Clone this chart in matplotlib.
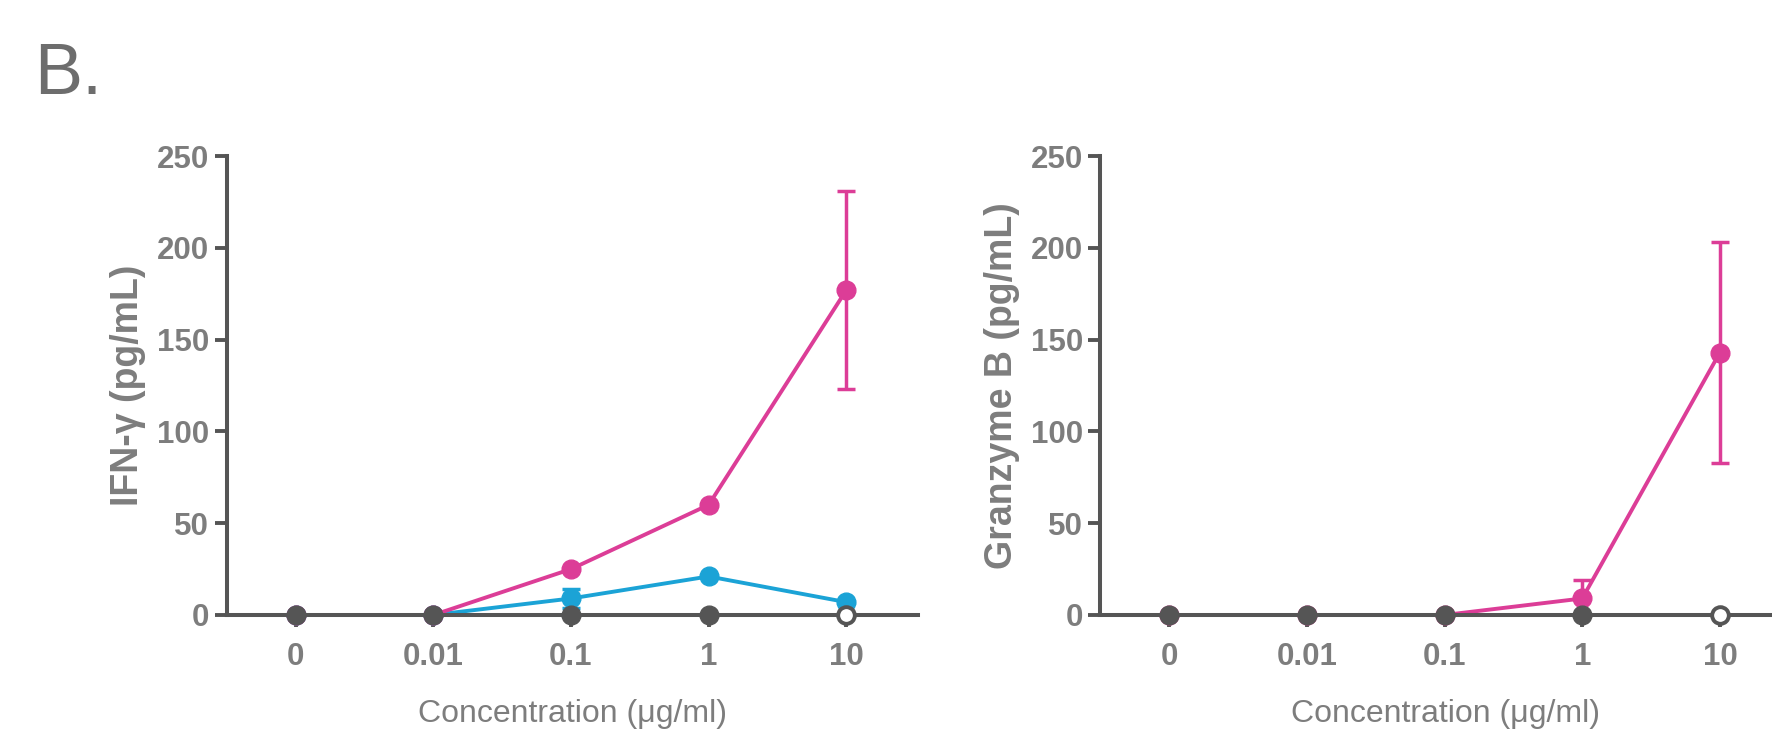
"""Two-panel dose-response plot: IFN-gamma and Granzyme B vs concentration."""

import matplotlib
matplotlib.use("Agg")
import matplotlib.pyplot as plt

# ---------------------------------------------------------------------------
# Data
# ---------------------------------------------------------------------------

conc_labels = ["0", "0.01", "0.1", "1", "10"]
xi = list(range(len(conc_labels)))

# IFN-gamma (pg/mL)
ifn_magenta = [0, 0, 25, 60, 177]
ifn_magenta_lo = [0, 0, 0, 0, 54]
ifn_magenta_hi = [0, 0, 0, 0, 54]
ifn_cyan = [0, 0, 9, 21, 7]
ifn_cyan_lo = [0, 0, 5, 0, 0]
ifn_cyan_hi = [0, 0, 5, 0, 0]

# Granzyme B (pg/mL)
gzb_magenta = [0, 0, 0, 9, 143]
gzb_magenta_lo = [0, 0, 0, 0, 60]
gzb_magenta_hi = [0, 0, 0, 10, 60]

# controls: filled at 0..1, open circle at 10
ctrl_x = [0, 1, 2, 3]
ctrl_y = [0, 0, 0, 0]
open_x = [4]
open_y = [0]

MAGENTA = "#dc3d97"
CYAN = "#1ba3d6"
DARK = "#555555"
LABEL_GREY = "#7d7d7d"

plt.rcParams["font.family"] = ["Liberation Sans", "DejaVu Sans"]


def style_axes(ax, ylabel):
    ax.set_xlim(-0.5, 4.52)
    ax.set_ylim(0, 250)
    ax.set_yticks([0, 50, 100, 150, 200, 250])
    ax.set_xticks(xi)
    ax.set_xticklabels(conc_labels)
    for s in ("top", "right"):
        ax.spines[s].set_visible(False)
    for s in ("left", "bottom"):
        ax.spines[s].set_color(DARK)
        ax.spines[s].set_linewidth(2.9)
    ax.tick_params(axis="y", direction="out", length=8.6, width=2.8, color=DARK, pad=4)
    ax.tick_params(axis="x", direction="out", length=8.6, width=2.8, color=DARK, pad=11)
    for lab in ax.get_xticklabels() + ax.get_yticklabels():
        lab.set_fontweight("bold")
        lab.set_fontsize(22.5)
        lab.set_color(LABEL_GREY)
    ax.set_ylabel(ylabel, fontsize=27, fontweight="bold", color=LABEL_GREY, labelpad=8)
    ax.set_xlabel("Concentration (\u03bcg/ml)", fontsize=23, color=LABEL_GREY, labelpad=19)


def series(ax, y, lo, hi, color):
    # drawn under the axis line so the zero segments stay hidden
    ax.errorbar(xi, y, yerr=[lo, hi], color=color, lw=2.8, marker="o", ms=13.5,
                elinewidth=2.5, capsize=6.5, capthick=2.5, clip_on=False, zorder=2)


def controls(ax):
    ax.plot(ctrl_x, ctrl_y, color=DARK, marker="o", ms=13.5, ls="none",
            clip_on=False, zorder=4)
    ax.plot(open_x, open_y, ls="none", marker="o", ms=12, mfc="white", mec=DARK,
            mew=2.8, clip_on=False, zorder=4)


fig = plt.figure(figsize=(17.72, 7.33), dpi=100)
ax1 = fig.add_axes([0.128, 0.161, 0.390, 0.626])
ax2 = fig.add_axes([0.621, 0.161, 0.390, 0.626])

series(ax1, ifn_cyan, ifn_cyan_lo, ifn_cyan_hi, CYAN)
series(ax1, ifn_magenta, ifn_magenta_lo, ifn_magenta_hi, MAGENTA)
controls(ax1)
style_axes(ax1, "IFN-\u03b3 (pg/mL)")

series(ax2, gzb_magenta, gzb_magenta_lo, gzb_magenta_hi, MAGENTA)
controls(ax2)
style_axes(ax2, "Granzyme B (pg/mL)")

fig.text(0.019, 0.872, "B.", fontsize=52, color="#6d6d6d")

fig.savefig("out.png", dpi=100)
